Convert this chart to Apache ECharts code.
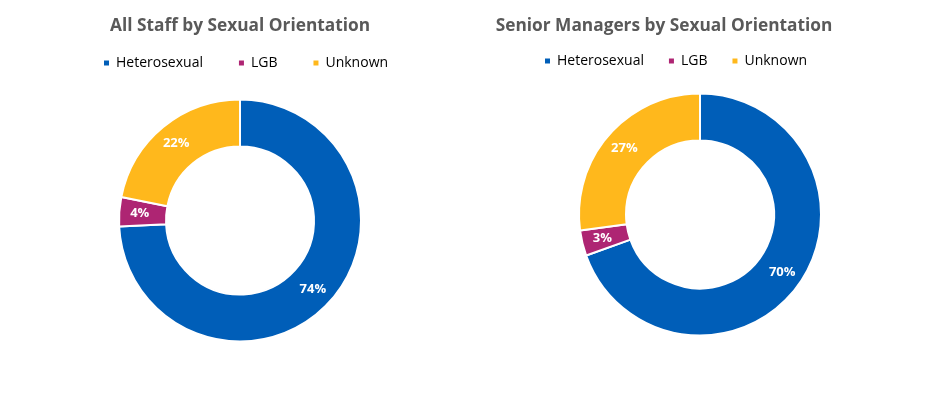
<!DOCTYPE html>
<html><head><meta charset="utf-8">
<script src="https://cdn.jsdelivr.net/npm/echarts@6/dist/echarts.min.js"></script>
<style>html,body{margin:0;padding:0;background:#fff}#c{width:941px;height:394px}</style>
</head><body><div id="c"></div>
<script>
const categories = ['Heterosexual', 'LGB', 'Unknown'];
const colors = ['#005EB8', '#AE2573', '#FFB81C'];
const titles = ['All Staff by Sexual Orientation', 'Senior Managers by Sexual Orientation'];
const allStaffValues = [74.2, 3.9, 21.9];
const seniorManagerValues = [69.5, 3.4, 27.1];

const chart = echarts.init(document.getElementById('c'));
const font = '"Open Sans", "Noto Sans", sans-serif';
function pie(values, center) {
  return {
    type: 'pie',
    center: center,
    radius: [74, 121],
    startAngle: 90,
    clockwise: true,
    avoidLabelOverlap: false,
    itemStyle: { borderColor: '#fff', borderWidth: 2 },
    label: {
      show: true, position: 'inside', color: '#fff', fontWeight: 'bold',
      fontSize: 13, fontFamily: font,
      formatter: p => Math.round(p.value) + '%'
    },
    labelLine: { show: false },
    emphasis: { disabled: true },
    data: categories.map((n, i) => ({ name: n, value: values[i], itemStyle: { color: colors[i] } }))
  };
}
function legend(left, top, gap) {
  return {
    left: left, top: top, padding: 0, itemWidth: 7, itemHeight: 7, icon: 'rect', itemGap: gap,
    data: categories, selectedMode: false,
    textStyle: { fontSize: 14, fontFamily: font, color: '#000', padding: [0, 0, 0, 1] }
  };
}
const titleStyle = { fontSize: 17.3, fontWeight: 'bold', color: '#595959', fontFamily: font };
chart.setOption({
  animation: false,
  title: [
    { text: titles[0], left: 240, top: 18, padding: 0, textAlign: 'center', textStyle: titleStyle },
    { text: titles[1], left: 664, top: 18, padding: 0, textAlign: 'center', textStyle: titleStyle }
  ],
  legend: [legend(102, 56, 34), legend(543, 54, 23)],
  series: [pie(allStaffValues, [240, 220.5]), pie(seniorManagerValues, [700, 214.5])]
});
</script></body></html>
